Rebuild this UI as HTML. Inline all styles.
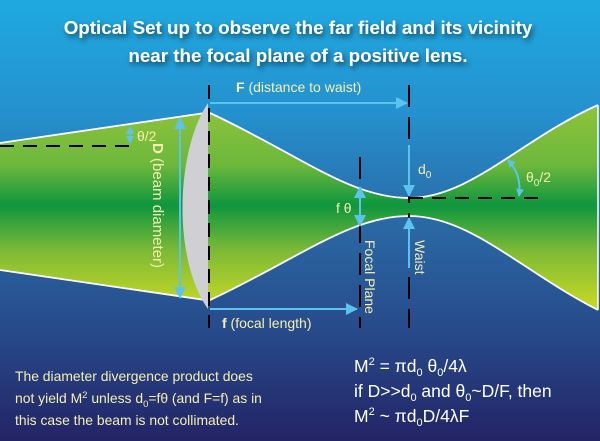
<!DOCTYPE html>
<html><head><meta charset="utf-8"><style>
html,body{margin:0;padding:0;width:600px;height:441px;overflow:hidden}
svg{display:block}
text{font-family:"Liberation Sans",sans-serif}
</style></head><body>
<svg width="600" height="441" viewBox="0 0 600 441" xmlns="http://www.w3.org/2000/svg">
<defs>
<linearGradient id="bg" x1="0" y1="0" x2="0" y2="1">
<stop offset="0" stop-color="#1fa9e0"/>
<stop offset="0.25" stop-color="#2492cf"/>
<stop offset="0.5" stop-color="#2a6aa6"/>
<stop offset="0.75" stop-color="#274a8a"/>
<stop offset="1" stop-color="#232466"/>
</linearGradient>
<linearGradient id="gb" gradientUnits="userSpaceOnUse" x1="0" y1="100" x2="0" y2="315">
<stop offset="0" stop-color="#92c43a"/>
<stop offset="0.3" stop-color="#6db83c"/>
<stop offset="0.49" stop-color="#0f963e"/>
<stop offset="0.7" stop-color="#7cba36"/>
<stop offset="1" stop-color="#d2dc22"/>
</linearGradient>
<marker id="ar" markerWidth="8" markerHeight="8" refX="7" refY="4" orient="auto" markerUnits="userSpaceOnUse">
<path d="M0,0 L8,4 L0,8 z" fill="#5cc3f0"/>
</marker>
<marker id="al" markerWidth="8" markerHeight="8" refX="1" refY="4" orient="auto" markerUnits="userSpaceOnUse">
<path d="M8,0 L0,4 L8,8 z" fill="#5cc3f0"/>
</marker>
<marker id="ar2" markerWidth="12" markerHeight="12" refX="11" refY="6" orient="auto" markerUnits="userSpaceOnUse">
<path d="M0,0 L12,6 L0,12 z" fill="#5cc3f0"/>
</marker>
<marker id="al2" markerWidth="12" markerHeight="12" refX="1" refY="6" orient="auto" markerUnits="userSpaceOnUse">
<path d="M12,0 L0,6 L12,12 z" fill="#5cc3f0"/>
</marker>
<filter id="sh" x="-10%" y="-30%" width="120%" height="160%"><feGaussianBlur in="SourceAlpha" stdDeviation="3"/><feOffset dx="2" dy="3"/><feComponentTransfer><feFuncA type="linear" slope="0.6"/></feComponentTransfer><feMerge><feMergeNode/><feMergeNode in="SourceGraphic"/></feMerge></filter>
</defs>
<rect width="600" height="441" fill="url(#bg)"/>
<g filter="url(#sh)" font-weight="bold" font-size="18.8" fill="#fff" text-anchor="middle">
<text x="298" y="34">Optical Set up to observe the far field and its vicinity</text>
<text x="298" y="62">near the focal plane of a positive lens.</text>
</g>
<!-- beam -->
<path d="M0,143 L205,113 L210,113 C300,155 350,198 409,198 C470,198 520,140 598,105 L598,310 C520,270 470,216 409,216 C350,216 300,258 210,300 L205,300 L0,270 Z" fill="url(#gb)"/>
<path d="M0,143 L205,113 M210,113 C300,155 350,198 409,198 C470,198 520,140 598,105 M0,270 L205,300 M210,300 C300,258 350,216 409,216 C470,216 520,270 598,310" stroke="#fff" stroke-width="1.8" fill="none"/>
<line x1="598" y1="105" x2="598" y2="310" stroke="#fff" stroke-width="1.5"/>
<!-- lens -->
<path d="M208,103 C176,150 172,258 208,309 Z" fill="#cfcfd4"/>
<!-- dashed lines -->
<g stroke="#000" stroke-width="2" stroke-dasharray="14,9" fill="none">
<line x1="0" y1="146" x2="138" y2="146"/>
<line x1="409" y1="198" x2="542" y2="198"/>
<line x1="209" y1="85" x2="209" y2="328"/>
<line x1="409" y1="85" x2="409" y2="328" stroke-dasharray="22,10"/>
<line x1="360" y1="157" x2="360" y2="328" stroke-dasharray="22,10"/>
</g>
<!-- arrows -->
<g stroke="#5cc3f0" stroke-width="2" fill="none">
<line x1="210" y1="103" x2="407" y2="103" marker-end="url(#ar2)"/>
<line x1="210" y1="309" x2="357" y2="309" marker-end="url(#ar2)"/>
<line x1="180" y1="118" x2="180" y2="298" marker-start="url(#al2)" marker-end="url(#ar2)"/>
<line x1="409" y1="145" x2="409" y2="196" marker-end="url(#ar2)"/>
<line x1="409" y1="268" x2="409" y2="218" marker-end="url(#ar2)"/>
<line x1="360" y1="187" x2="360" y2="226" marker-start="url(#al2)" marker-end="url(#ar2)"/>
<line x1="130" y1="127" x2="130" y2="143" stroke-width="1.3" marker-start="url(#al)" marker-end="url(#ar)"/>
<path d="M508,160 Q522,175 519,196" marker-start="url(#al)" marker-end="url(#ar)"/>
</g>
<!-- labels -->
<g fill="#f5efb0" font-size="14">
<text x="236" y="92"><tspan font-weight="bold">F</tspan> (distance to waist)</text>
<text x="222" y="328"><tspan font-weight="bold">f</tspan> (focal length)</text>
<text x="137" y="141">θ/2</text>
<text x="418" y="174">d<tspan font-size="10" dy="4">0</tspan></text>
<text x="526" y="182">θ<tspan font-size="10" dy="4">0</tspan><tspan dy="-4">/2</tspan></text>
<text x="336" y="213">f θ</text>
<text transform="translate(153,143) rotate(90)" font-size="15"><tspan font-weight="bold">D</tspan> (beam diameter)</text>
<text transform="translate(365,240) rotate(90)">Focal Plane</text>
<text transform="translate(415,240) rotate(90)">Waist</text>
</g>
<g fill="#f5efb0" font-size="13.9">
<text x="15" y="381">The diameter divergence product does</text>
<text x="15" y="403">not yield M<tspan font-size="9.5" dy="-5">2</tspan><tspan dy="5"> unless d</tspan><tspan font-size="9.5" dy="4">0</tspan><tspan dy="-4">=fθ (and F=f) as in</tspan></text>
<text x="15" y="425">this case the beam is not collimated.</text>
</g>
<g fill="#fff" font-size="17.5">
<text x="354" y="372">M<tspan font-size="11" dy="-7">2</tspan><tspan dy="7"> = πd</tspan><tspan font-size="11" dy="4">0</tspan><tspan dy="-4"> θ</tspan><tspan font-size="11" dy="4">0</tspan><tspan dy="-4">/4λ</tspan></text>
<text x="354" y="397">if D&gt;&gt;d<tspan font-size="11" dy="4">0</tspan><tspan dy="-4"> and θ</tspan><tspan font-size="11" dy="4">0</tspan><tspan dy="-4">~D/F, then</tspan></text>
<text x="354" y="422">M<tspan font-size="11" dy="-7">2</tspan><tspan dy="7"> ~ πd</tspan><tspan font-size="11" dy="4">0</tspan><tspan dy="-4">D/4λF</tspan></text>
</g>
</svg>
</body></html>
